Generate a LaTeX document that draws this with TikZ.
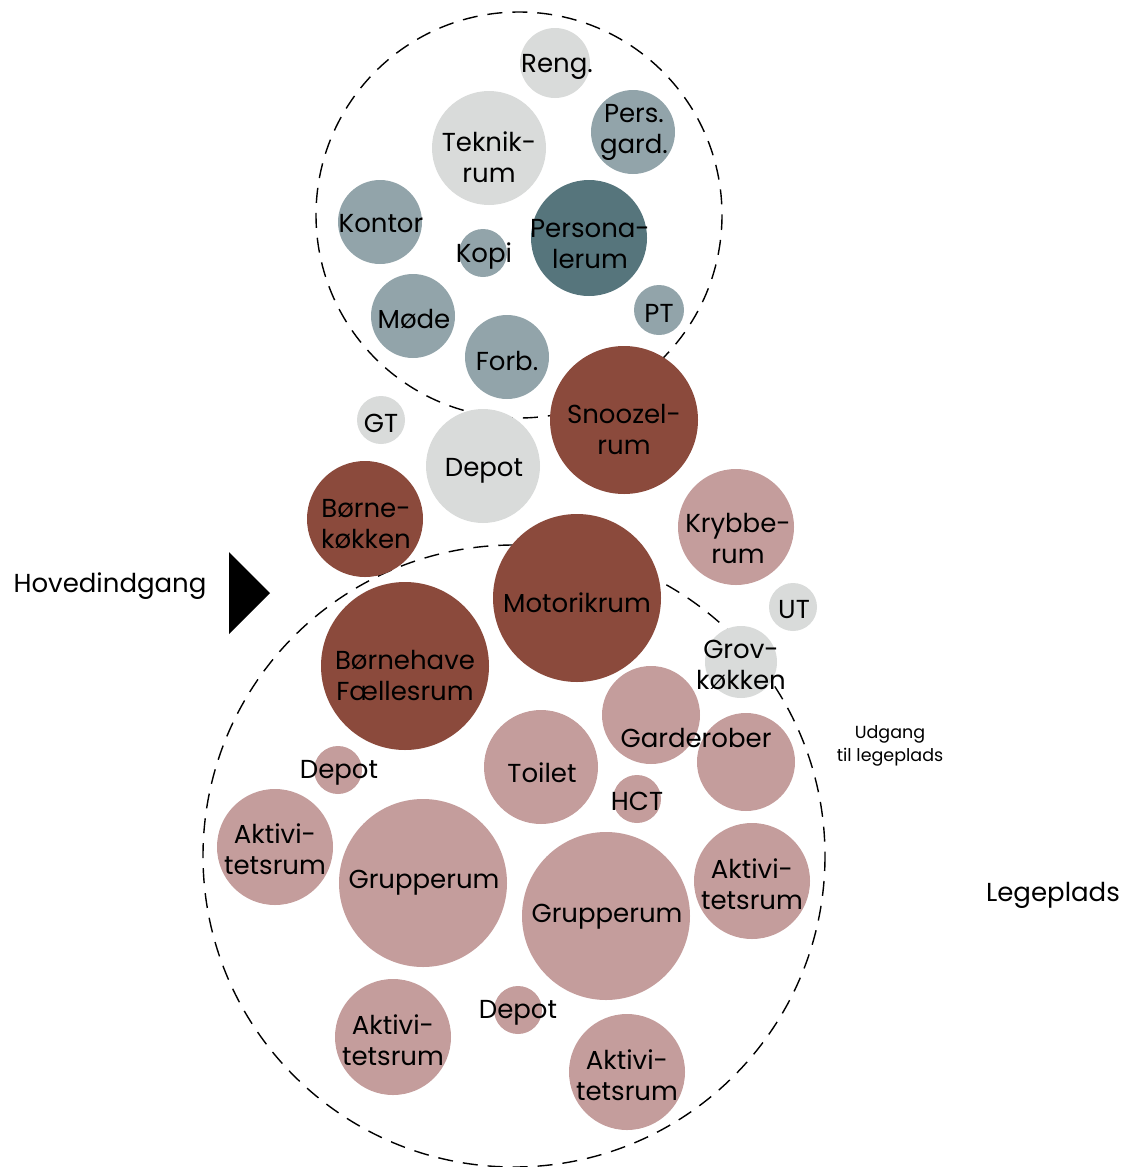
\documentclass[tikz,border=0pt]{standalone}
\usepackage{fontspec}
\setmainfont{Poppins}
\usepackage{tikz}
\usetikzlibrary{positioning}
\definecolor{lightcol}{RGB}{217,219,218}
\definecolor{bluecol}{RGB}{146,164,170}
\definecolor{tealcol}{RGB}{86,117,124}
\definecolor{browncol}{RGB}{139,74,60}
\definecolor{rosecol}{RGB}{196,157,156}
\tikzset{
  room/.style={circle,fill=#1,inner sep=0pt},
  lbl/.style={align=center,font=\fontsize{26}{31}\selectfont,text=black},
  zone/.style={line width=1.4pt,dash pattern=on 15pt off 10pt}
}
\begin{document}
\begin{tikzpicture}[x=1pt,y=-1pt]
  \useasboundingbox (0,0) rectangle (1125,1167);
  % dashed zones
  \draw[zone] (519,215) circle (203);
  \draw[zone] (514,856) circle (311);
  % personnel area
  \node[room=lightcol,minimum size=70] (reng) at (555,63) {};
  \node[room=lightcol,minimum size=114] (teknik) at (489,148) {};
  \node[room=bluecol,minimum size=84] (persgard) at (633,132) {};
  \node[room=bluecol,minimum size=84] (kontor) at (380,222) {};
  \node[room=bluecol,minimum size=48] (kopi) at (483,253) {};
  \node[room=tealcol,minimum size=116] (personale) at (589,238) {};
  \node[room=bluecol,minimum size=84] (moede) at (413,316) {};
  \node[room=bluecol,minimum size=50] (pt) at (659,310) {};
  \node[room=bluecol,minimum size=84] (forb) at (507,357) {};
  % middle
  \node[room=browncol,minimum size=148] (snoozel) at (624,420) {};
  \node[room=lightcol,minimum size=48] (gt) at (381,420) {};
  \node[room=lightcol,minimum size=114] (depotA) at (483,466) {};
  \node[room=browncol,minimum size=116] (boernekoek) at (365,519) {};
  \node[room=rosecol,minimum size=116] (krybbe) at (736,527) {};
  \node[room=browncol,minimum size=168] (motorik) at (577,598) {};
  \node[room=lightcol,minimum size=48] (ut) at (793,607) {};
  \node[room=lightcol,minimum size=72] (grov) at (741,662) {};
  % kindergarten area
  \node[room=browncol,minimum size=168] (faelles) at (405,666) {};
  \node[room=rosecol,minimum size=98] (gardA) at (651,715) {};
  \node[room=rosecol,minimum size=98] (gardB) at (746,762) {};
  \node[room=rosecol,minimum size=48] (depotB) at (338,770) {};
  \node[room=rosecol,minimum size=114] (toilet) at (541,767) {};
  \node[room=rosecol,minimum size=48] (hct) at (637,799) {};
  \node[room=rosecol,minimum size=116] (aktA) at (275,847) {};
  \node[room=rosecol,minimum size=168] (gruppeA) at (423,883) {};
  \node[room=rosecol,minimum size=168] (gruppeB) at (606,916) {};
  \node[room=rosecol,minimum size=116] (aktB) at (752,881) {};
  \node[room=rosecol,minimum size=116] (aktC) at (393,1037) {};
  \node[room=rosecol,minimum size=48] (depotC) at (518,1010) {};
  \node[room=rosecol,minimum size=116] (aktD) at (627,1072) {};
  % labels
  \node[lbl] at (557,67) {Reng.};
  \node[lbl] at (489,157) {Teknik-\\rum};
  \node[lbl] at (634,132) {Pers.\\gard.};
  \node[lbl] at (381,224) {Kontor};
  \node[lbl] at (484,256) {Kopi};
  \node[lbl] at (590,244) {Persona-\\lerum};
  \node[lbl] at (414,319) {Møde};
  \node[lbl] at (659,313) {PT};
  \node[lbl] at (507,361) {Forb.};
  \node[lbl] at (624,429) {Snoozel-\\rum};
  \node[lbl] at (381,423) {GT};
  \node[lbl] at (484,471) {Depot};
  \node[lbl] at (366,524) {Børne-\\køkken};
  \node[lbl] at (738,538) {Krybbe-\\rum};
  \node[lbl] at (577,603) {Motorikrum};
  \node[lbl] at (794,610) {UT};
  \node[lbl] at (741,665) {Grov-\\køkken};
  \node[lbl] at (405,675) {Børnehave\\Fællesrum};
  \node[lbl] at (696,738) {Garderober};
  \node[lbl] at (339,773) {Depot};
  \node[lbl] at (542,773) {Toilet};
  \node[lbl] at (637,801) {HCT};
  \node[lbl] at (275,849) {Aktivi-\\tetsrum};
  \node[lbl] at (424,883) {Grupperum};
  \node[lbl] at (607,917) {Grupperum};
  \node[lbl] at (752,884) {Aktivi-\\tetsrum};
  \node[lbl] at (393,1040) {Aktivi-\\tetsrum};
  \node[lbl] at (518,1013) {Depot};
  \node[lbl] at (627,1075) {Aktivi-\\tetsrum};
  % surroundings
  \node[lbl] (hoved) at (110,586) {Hovedindgang};
  \fill (229,552) -- (270,593) -- (229,634) -- cycle;
  \node[lbl,font=\fontsize{17.5}{23}\selectfont] (udgang) at (890,746) {Udgang\\til legeplads};
  \node[lbl] (legeplads) at (1053,895) {Legeplads};
\end{tikzpicture}
\end{document}
